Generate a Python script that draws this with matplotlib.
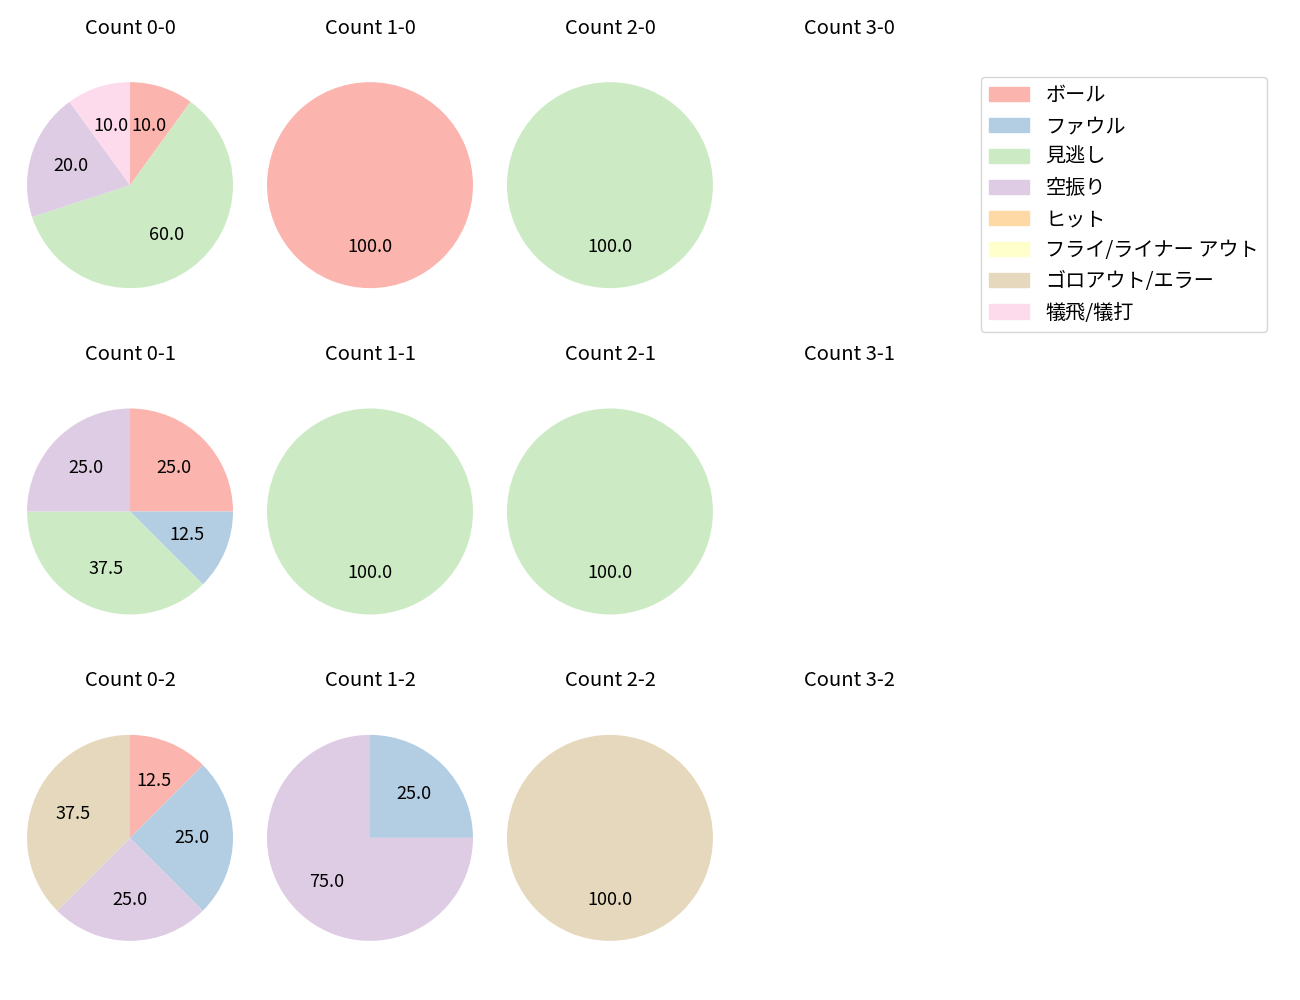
import numpy as np
import matplotlib
matplotlib.use("Agg")
import matplotlib.pyplot as plt

plt.rcParams['font.family'] = ['Noto Sans CJK JP', 'DejaVu Sans']

# categories (legend order)
labels = ["ボール", "ファウル", "見逃し", "空振り", "ヒット",
          "フライ/ライナー アウト", "ゴロアウト/エラー", "犠飛/犠打"]

# percentages per count, in the order of labels
count_0_0 = [10, 0, 60, 20, 0, 0, 0, 10]
count_1_0 = [100, 0, 0, 0, 0, 0, 0, 0]
count_2_0 = [0, 0, 100, 0, 0, 0, 0, 0]
count_0_1 = [25, 12.5, 37.5, 25, 0, 0, 0, 0]
count_1_1 = [0, 0, 100, 0, 0, 0, 0, 0]
count_2_1 = [0, 0, 100, 0, 0, 0, 0, 0]
count_0_2 = [12.5, 25, 0, 25, 0, 0, 37.5, 0]
count_1_2 = [0, 25, 0, 75, 0, 0, 0, 0]
count_2_2 = [0, 0, 0, 0, 0, 0, 100, 0]

data = {
    (0, 0): count_0_0, (1, 0): count_1_0, (2, 0): count_2_0, (3, 0): None,
    (0, 1): count_0_1, (1, 1): count_1_1, (2, 1): count_2_1, (3, 1): None,
    (0, 2): count_0_2, (1, 2): count_1_2, (2, 2): count_2_2, (3, 2): None,
}

colors = plt.cm.Pastel1(np.arange(len(labels)))

fig, axes = plt.subplots(3, 4, figsize=(13, 10), dpi=100)
fig.subplots_adjust(left=0.0208, right=0.733, top=0.958, bottom=0.019,
                    wspace=0.165, hspace=0.14)

for (balls, strikes), vals in data.items():
    ax = axes[strikes, balls]
    ax.set_title(f"Count {balls}-{strikes}", fontsize=14.5)
    if vals is None:
        ax.axis("off")
        continue
    vals = np.array(vals, dtype=float)
    mask = vals > 0
    ax.pie(vals[mask], colors=colors[mask], startangle=90, counterclock=False,
           radius=1.25, autopct="%.1f", textprops={"fontsize": 13})
    ax.set_aspect("equal", adjustable="datalim")

handles = [plt.Rectangle((0, 0), 1, 1, color=c) for c in colors]
fig.legend(handles, labels, loc="upper left", bbox_to_anchor=(0.7546, 0.923),
           borderaxespad=0, fontsize=14.5, labelspacing=0.5)

fig.savefig("out.png")
